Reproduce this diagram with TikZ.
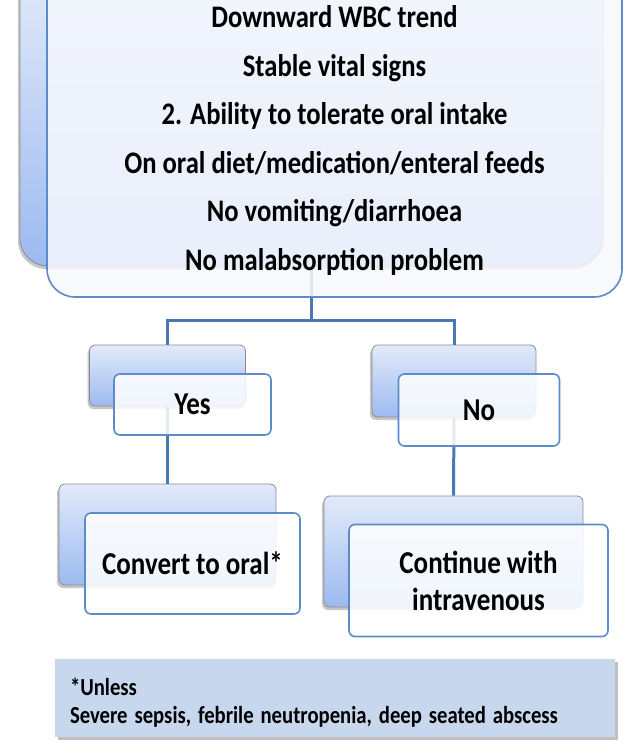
\documentclass[tikz,border=0pt]{standalone}
\usepackage{fontspec}
\setmainfont{Carlito}
\usepackage{graphicx}
\usepackage{tikz}
\usetikzlibrary{calc,shadows}
\definecolor{edgeblue}{HTML}{5B8BC9}
\definecolor{wireblue}{HTML}{4A78B5}
\definecolor{paleblue}{HTML}{E2EAFA}
\definecolor{midblue}{HTML}{9CBAF0}
\definecolor{notefill}{HTML}{C6D7EE}
\definecolor{critfill}{HTML}{F6F8FD}
\newcommand\tall[1]{\scalebox{1}[1.18]{#1}}
\tikzset{
  backbox/.style={draw=black!45,line width=0.8pt,top color=paleblue,bottom color=midblue,
    rounded corners=6pt,inner sep=0pt,
    drop shadow={shadow xshift=-2pt,shadow yshift=-3pt,opacity=.45}},
  frontbox/.style={draw=edgeblue,line width=1.6pt,fill=white,fill opacity=.85,text opacity=1,
    rounded corners=6pt,inner sep=0pt,align=center,font=\fontsize{27}{37}\selectfont\bfseries},
  link/.style={wireblue,line width=3pt}
}

\begin{document}
\begin{tikzpicture}[x=1pt,y=-1pt]
\useasboundingbox (0,0) rectangle (629,743);
\clip (0,0) rectangle (629,743);
% back boxes
\node[backbox,rounded corners=28pt,minimum width=583pt,minimum height=296pt] (critbg) at (311.5,118) {};
\node[backbox,minimum width=156pt,minimum height=61pt] (yesbg) at (167.5,375.5) {};
\node[backbox,minimum width=164pt,minimum height=72pt] (nobg) at (454,381) {};
\node[backbox,minimum width=217pt,minimum height=101pt] (convbg) at (167.5,534.5) {};
\node[backbox,minimum width=259pt,minimum height=111pt] (contbg) at (453.5,551.5) {};
% connectors
\draw[link] (critbg.south) -- ++(0,54) coordinate (split);
\draw[link] (split) -| (yesbg.north);
\draw[link] (split) -| (nobg.north);
\draw[link] (yesbg.south) -- (convbg.north);
\draw[link] (nobg.south) -- (contbg.north);
% front boxes
\node[frontbox,fill=critfill,rounded corners=28pt,minimum width=575pt,minimum height=327pt] (crit) at (334.5,133.5) {};
\node[font=\fontsize{26.6}{48.5}\selectfont\bfseries,align=center,inner sep=0pt] (crittext) at ($(crit)+(0,7)$)
  {\tall{Downward WBC trend}\\\tall{Stable vital signs}\\\tall{2. Ability to tolerate oral intake}\\
   \tall{On oral diet/medication/enteral feeds}\\\tall{No vomiting/diarrhoea}\\\tall{No malabsorption problem}};
\node[frontbox,minimum width=157pt,minimum height=61pt] (yes) at ($(yesbg)+(25,29)$) {\tall{Yes}};
\node[frontbox,minimum width=161pt,minimum height=72pt] (no) at ($(nobg)+(25,29)$) {\tall{No}};
\node[frontbox,minimum width=215pt,minimum height=101pt] (conv) at ($(convbg)+(25,29)$) {\tall{Convert to oral*}};
\node[frontbox,minimum width=259pt,minimum height=112pt] (cont) at ($(contbg)+(25,29)$) {\tall{Continue with}\\\tall{intravenous}};
% footnote
\node[fill=notefill,text width=530pt,inner xsep=15pt,minimum height=78pt,align=left,
  font=\fontsize{20.7}{28}\selectfont\bfseries,
  drop shadow={shadow xshift=3pt,shadow yshift=-3pt,opacity=.5}] (note) at (335,698)
  {\rule{0pt}{26pt}\tall{*Unless}\\\tall{Severe sepsis, febrile neutropenia, deep seated abscess}};
\end{tikzpicture}
\end{document}
